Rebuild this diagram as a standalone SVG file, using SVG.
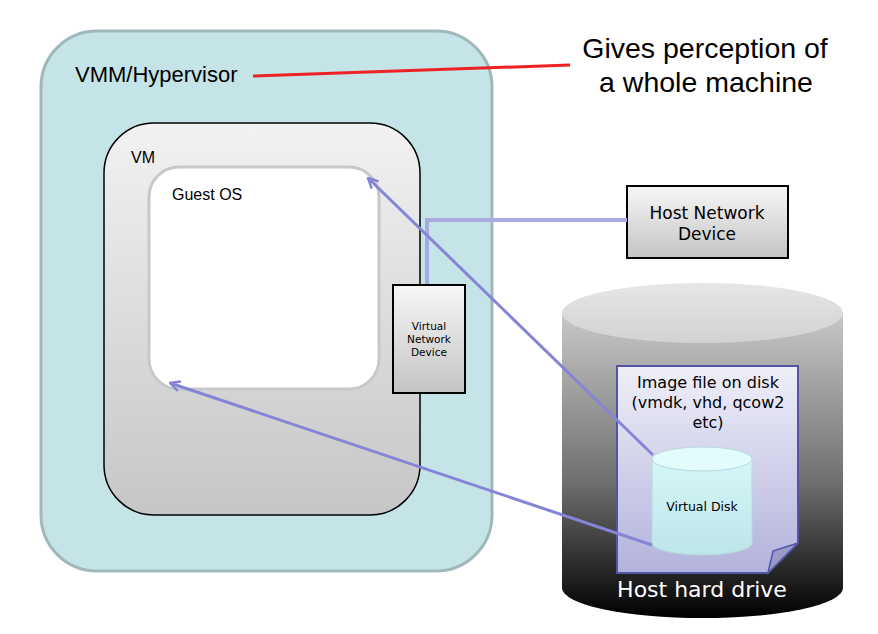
<svg xmlns="http://www.w3.org/2000/svg" width="878" height="634" viewBox="0 0 878 634">
<defs>
<style>
.arial{font-family:"Liberation Sans",Arial,sans-serif;fill:#000}
.verd{font-family:"DejaVu Sans",Verdana,sans-serif;fill:#000;text-anchor:middle}
.link{fill:none;stroke:#8585d8;stroke-width:3}
</style>
<linearGradient id="gVm" x1="0" y1="0" x2="0" y2="1"><stop offset="0" stop-color="#f2f2f2"/><stop offset="1" stop-color="#c6c6c6"/></linearGradient>
<linearGradient id="gBox" x1="0" y1="0" x2="0" y2="1"><stop offset="0" stop-color="#f7f7f7"/><stop offset="1" stop-color="#c4c4c4"/></linearGradient>
<linearGradient id="gDrive" x1="0" y1="0" x2="0" y2="1"><stop offset="0" stop-color="#c8c8c8"/><stop offset="0.55" stop-color="#707070"/><stop offset="1" stop-color="#000"/></linearGradient>
<linearGradient id="gTop" x1="0" y1="0" x2="0" y2="1"><stop offset="0" stop-color="#e6e6e6"/><stop offset="1" stop-color="#d2d2d2"/></linearGradient>
<linearGradient id="gPage" x1="0" y1="0" x2="0" y2="1"><stop offset="0" stop-color="#efeff9"/><stop offset="1" stop-color="#b2b2dc"/></linearGradient>
<linearGradient id="gVd" x1="0" y1="0" x2="0" y2="1"><stop offset="0" stop-color="#d6f6f8"/><stop offset="1" stop-color="#bde6e9"/></linearGradient>
<marker id="arr" viewBox="0 0 12 12" refX="11" refY="6" markerWidth="12" markerHeight="12" markerUnits="userSpaceOnUse" orient="auto">
<path d="M1,1 L11,6 L1,11" fill="none" stroke="#8585d8" stroke-width="2.5"/>
</marker>
</defs>

<g id="hypervisor">
<rect x="41" y="31" width="451" height="540" rx="56" ry="56" fill="#c5e4e7" stroke="#a0b8bc" stroke-width="3"/>
<text class="arial" x="75" y="82" font-size="22">VMM/Hypervisor</text>
</g>

<g id="vm">
<rect x="104" y="123" width="316" height="392" rx="50" ry="50" fill="url(#gVm)" stroke="#000" stroke-width="1.5"/>
<text class="arial" x="131" y="163" font-size="16">VM</text>
</g>

<g id="guest-os">
<rect x="149" y="167" width="230" height="222" rx="30" ry="30" fill="#fff" stroke="#c8c8c8" stroke-width="3"/>
<text class="arial" x="172" y="200" font-size="16">Guest OS</text>
</g>

<g id="note">
<text class="arial" x="705" y="58" font-size="28.5" text-anchor="middle">Gives perception of</text>
<text class="arial" x="706" y="92" font-size="28.5" text-anchor="middle">a whole machine</text>
</g>

<g id="host-network-device">
<rect x="627" y="186" width="161" height="72" fill="url(#gBox)" stroke="#000" stroke-width="2"/>
<text class="verd" x="707" y="219" font-size="17">Host Network</text>
<text class="verd" x="707" y="240" font-size="17">Device</text>
</g>

<g id="host-hard-drive">
<path d="M562,313 L562,588 A140.5,30 0 0 0 843,588 L843,313 Z" fill="url(#gDrive)"/>
<ellipse cx="702.5" cy="313" rx="140.5" ry="30" fill="url(#gTop)"/>
<text x="702" y="597" font-size="22" font-family="DejaVu Sans,Verdana,sans-serif" fill="#fff" text-anchor="middle">Host hard drive</text>
</g>

<g id="image-file">
<path d="M617,366 L798,366 L798,543 L768,573 L617,573 Z" fill="url(#gPage)" stroke="#5454a4" stroke-width="2"/>
<path d="M798,543 L773,551 L768,573 Z" fill="#9a9ac8" stroke="#5454a4" stroke-width="1.5"/>
<text class="verd" x="708" y="388" font-size="16">Image file on disk</text>
<text class="verd" x="708" y="408" font-size="16">(vmdk, vhd, qcow2</text>
<text class="verd" x="708" y="428" font-size="16">etc)</text>
</g>

<g id="virtual-disk">
<path d="M652,459 L652,543 A50,12 0 0 0 752,543 L752,459 Z" fill="url(#gVd)" stroke="#b4dadd" stroke-width="1"/>
<ellipse cx="702" cy="459" rx="50" ry="12" fill="#e4fbfc" stroke="#b4dadd" stroke-width="1"/>
<text class="verd" x="702" y="511" font-size="12.5">Virtual Disk</text>
</g>

<g id="connectors">
<path d="M427,285 L427,220 L627,220" fill="none" stroke="#aaaae2" stroke-width="4"/>
<line class="link" x1="653" y1="455" x2="368" y2="178" marker-end="url(#arr)"/>
<line class="link" x1="652" y1="545" x2="170" y2="383" marker-end="url(#arr)"/>
<line x1="253" y1="76" x2="570" y2="65" stroke="#ee2222" stroke-width="3"/>
</g>

<g id="virtual-network-device">
<rect x="393" y="285" width="72" height="108" fill="url(#gBox)" stroke="#000" stroke-width="2"/>
<text class="verd" x="429" y="330" font-size="10.5">Virtual</text>
<text class="verd" x="429" y="343" font-size="10.5">Network</text>
<text class="verd" x="429" y="356" font-size="10.5">Device</text>
</g>
</svg>
